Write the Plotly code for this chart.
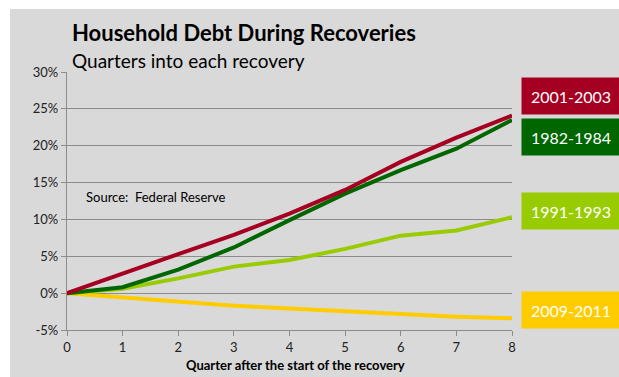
import plotly.graph_objects as go

quarters = [0, 1, 2, 3, 4, 5, 6, 7, 8]
s2001 = [0, 2.7, 5.3, 7.9, 10.8, 14.0, 17.8, 21.1, 24.1]
s1982 = [0, 0.8, 3.2, 6.2, 9.9, 13.5, 16.7, 19.6, 23.5]
s1991 = [0, 0.6, 2.0, 3.6, 4.5, 6.0, 7.8, 8.5, 10.3]
s2009 = [0, -0.55, -1.2, -1.7, -2.1, -2.5, -2.9, -3.2, -3.4]
series_names = ["2009-2011", "1991-1993", "1982-1984", "2001-2003"]
series_colors = ["#FFCC00", "#99CC00", "#006600", "#A50021"]
series_values = [s2009, s1991, s1982, s2001]
y_ticks = [-5, 0, 5, 10, 15, 20, 25, 30]
y_tick_labels = ["-5%", "0%", "5%", "10%", "15%", "20%", "25%", "30%"]

FONT = "Lato"
BG = "#D9D9D9"
GRID = "#8C8C8C"

fig = go.Figure()
for name, col, vals in zip(series_names, series_colors, series_values):
    fig.add_trace(go.Scatter(x=quarters, y=vals, mode="lines", name=name,
                             line=dict(color=col, width=4), showlegend=False))

L, R, T, B = 67, 107, 72, 47
W, H = 619, 377
pw, ph = W - L - R, H - T - B

def px(x):
    return (x - L) / pw

def py(y):
    return (H - B - y) / ph

fig.add_shape(type="rect", xref="paper", yref="paper",
              x0=px(10), x1=px(W), y0=py(H), y1=py(9),
              fillcolor=BG, line=dict(width=0), layer="below")

fig.update_layout(
    width=W, height=H,
    margin=dict(l=L, r=R, t=T, b=B),
    paper_bgcolor="white", plot_bgcolor=BG,
    font=dict(family=FONT, color="#222222"),
    xaxis=dict(range=[0, 8], tickvals=quarters, showgrid=False, zeroline=False,
               showline=True, linecolor=GRID, linewidth=1.3,
               ticks="outside", ticklen=5, tickcolor=GRID,
               tickfont=dict(size=13, family=FONT)),
    yaxis=dict(range=[-5, 30], tickvals=y_ticks, ticktext=y_tick_labels,
               showgrid=True, gridcolor=GRID, gridwidth=1.3, zeroline=False,
               showline=True, linecolor=GRID, linewidth=1.3,
               ticks="outside", ticklen=5, tickcolor=GRID,
               tickfont=dict(size=13, family=FONT)),
)

anns = [
    dict(text="<b>Household Debt During Recoveries</b>", x=px(70), y=py(33),
         xanchor="left", yanchor="middle", font=dict(size=22, family=FONT, color="black")),
    dict(text="Quarters into each recovery", x=px(70), y=py(61),
         xanchor="left", yanchor="middle", font=dict(size=19, family=FONT, color="black")),
    dict(text="Source:  Federal Reserve", x=px(84), y=py(197),
         xanchor="left", yanchor="middle", font=dict(size=13, family=FONT, color="black")),
    dict(text="<b>Quarter after the start of the recovery</b>", x=px(295), y=py(365),
         xanchor="center", yanchor="middle", font=dict(size=13, family=FONT, color="black")),
]
box_centers = {"2001-2003": 96, "1982-1984": 136.5, "1991-1993": 211, "2009-2011": 310}
for name, col in zip(series_names, series_colors):
    anns.append(dict(text=name, x=px(521), y=py(box_centers[name]),
                     xanchor="left", yanchor="middle", width=98, height=36,
                     bgcolor=col, borderpad=0, align="center", valign="middle",
                     font=dict(size=16, family=FONT, color="white")))
for a in anns:
    a.update(xref="paper", yref="paper", showarrow=False)
fig.update_layout(annotations=anns)

fig.write_html("out.html", config={"displayModeBar": False},
               post_script="document.body.style.margin='0';document.body.style.overflow='hidden';")
